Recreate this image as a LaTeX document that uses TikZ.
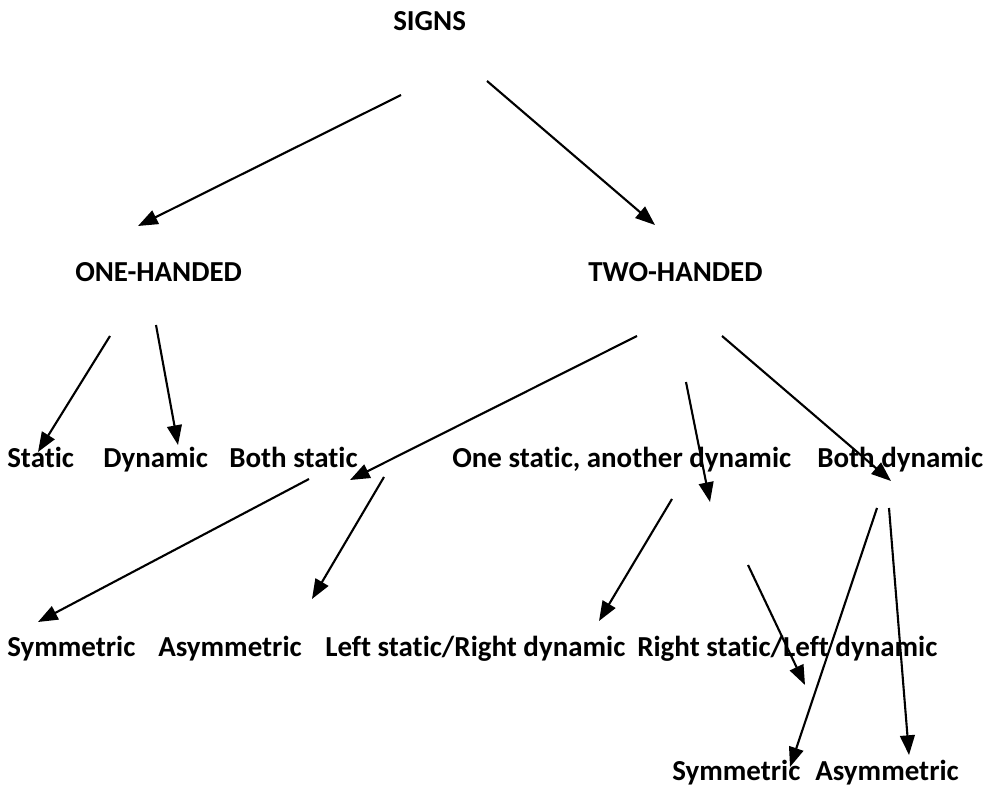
\documentclass[tikz,border=0pt]{standalone}
\usepackage{fontspec}
\setmainfont{Carlito}[Ligatures=NoCommon]
\usetikzlibrary{arrows.meta}

\begin{document}
\begin{tikzpicture}[x=0.025cm,y=-0.025cm,
  lbl/.style={anchor=base west,inner sep=0pt,font=\fontsize{20.6}{24}\selectfont\bfseries},
  arr/.style={-{Triangle[length=14pt,width=10.5pt]},line width=1.5pt}]

\useasboundingbox (0,0) rectangle (984,786);

% labels
\node[lbl] (signs) at (393,31) {SIGNS};

\node[lbl] (onehand) at (75,282) {ONE-HANDED};
\node[lbl] (twohand) at (588,282) {TWO-HANDED};

\node[lbl] (static) at (7,467) {Static};
\node[lbl] (dynamic) at (103,467) {Dynamic};
\node[lbl] (bothstatic) at (229,467) {Both static};
\node[lbl] (onestatic) at (452,467) {One static, another dynamic};
\node[lbl] (bothdyn) at (817,467) {Both dynamic};

\node[lbl] (symA) at (7,656) {Symmetric};
\node[lbl] (asymA) at (158,656) {Asymmetric};
\node[lbl] (leftstat) at (325,656) {Left static/Right dynamic};
\node[lbl] (rightstat) at (637,656) {Right static/Left dynamic};

\node[lbl] (symB) at (672,780) {Symmetric};
\node[lbl] (asymB) at (815,780) {Asymmetric};

% arrow ends
\coordinate (signs-l) at (401,95);
\coordinate (signs-r) at (487,81);
\coordinate (onehand-in) at (138,226);
\coordinate (twohand-in) at (655,225);

\coordinate (onehand-a) at (110,336);
\coordinate (onehand-b) at (156,325);
\coordinate (static-in) at (38,452);
\coordinate (dynamic-in) at (178,445);

\coordinate (twohand-a) at (637,336);
\coordinate (twohand-b) at (686,382);
\coordinate (twohand-c) at (722,336);
\coordinate (bothstatic-in) at (350,480);
\coordinate (onestatic-in) at (710,502);
\coordinate (bothdyn-in) at (891,481);

\coordinate (bothstatic-a) at (309,479);
\coordinate (bothstatic-b) at (384,477);
\coordinate (symA-in) at (38,622);
\coordinate (asymA-in) at (312,599);

\coordinate (onestatic-a) at (672,499);
\coordinate (onestatic-b) at (748,565);
\coordinate (leftstat-in) at (599,621);
\coordinate (rightstat-in) at (805,685);

\coordinate (bothdyn-a) at (877,508);
\coordinate (bothdyn-b) at (889,508);
\coordinate (symB-in) at (790,767);
\coordinate (asymB-in) at (909,755);

% arrows
\draw[arr] (signs-l) -- (onehand-in);
\draw[arr] (signs-r) -- (twohand-in);

\draw[arr] (onehand-a) -- (static-in);
\draw[arr] (onehand-b) -- (dynamic-in);

\draw[arr] (twohand-a) -- (bothstatic-in);
\draw[arr] (twohand-b) -- (onestatic-in);
\draw[arr] (twohand-c) -- (bothdyn-in);

\draw[arr] (bothstatic-a) -- (symA-in);
\draw[arr] (bothstatic-b) -- (asymA-in);

\draw[arr] (onestatic-a) -- (leftstat-in);
\draw[arr] (onestatic-b) -- (rightstat-in);

\draw[arr] (bothdyn-a) -- (symB-in);
\draw[arr] (bothdyn-b) -- (asymB-in);

\end{tikzpicture}
\end{document}
